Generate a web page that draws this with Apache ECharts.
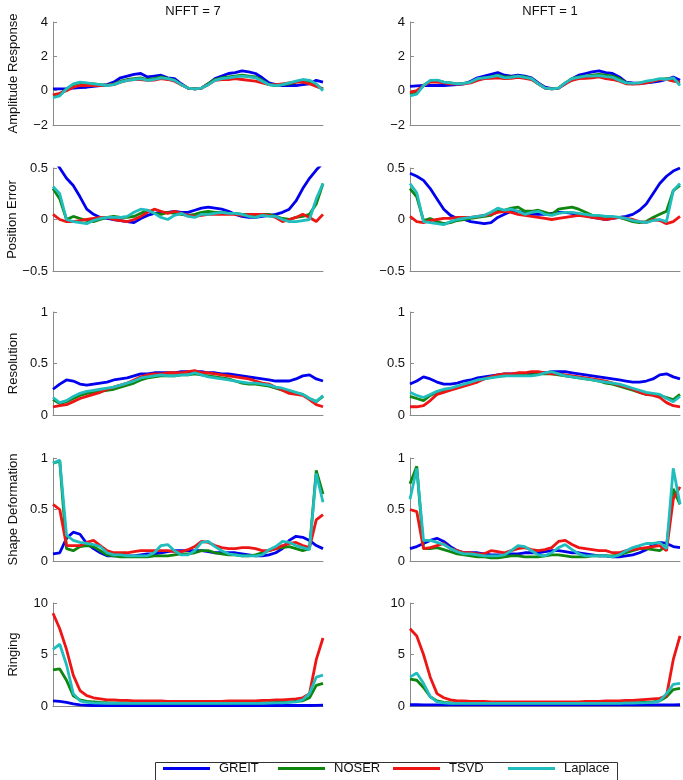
<!DOCTYPE html>
<html>
<head>
<meta charset="utf-8">
<script src="https://cdn.jsdelivr.net/npm/echarts@6/dist/echarts.min.js"></script>
<style>html,body{margin:0;padding:0;background:#fff}#c{width:683px;height:780px}</style>
</head>
<body>
<div id="c"></div>
<script>
// ---------- DATA ----------
const seriesNames = ['GREIT','NOSER','TSVD','Laplace'];
const rowTitles = ['Amplitude Response','Position Error','Resolution','Shape Deformation','Ringing'];
const colTitles = ['NFFT = 7','NFFT = 1'];
const yMins = [-2,-0.5,0,0,0];
const yMaxs = [4,0.5,1,1,10];
const ySteps = [2,0.5,0.5,0.5,5];

// Amplitude Response
const amp7_GREIT = [0.1,0.1,0.12,0.15,0.18,0.2,0.25,0.3,0.35,0.5, 0.75,0.85,0.95,1.0,0.8,0.85,0.9,0.75,0.7,0.4, 0.15,0.1,0.15,0.4,0.7,0.85,1.0,1.05,1.15,1.1, 1.0,0.75,0.45,0.35,0.3,0.3,0.3,0.35,0.4,0.6, 0.5];
const amp7_NOSER = [-0.3,-0.2,0.1,0.35,0.45,0.42,0.4,0.35,0.32,0.38, 0.55,0.65,0.7,0.75,0.65,0.7,0.8,0.72,0.6,0.35, 0.15,0.1,0.15,0.4,0.65,0.75,0.8,0.85,0.9,0.85, 0.8,0.6,0.35,0.3,0.35,0.4,0.5,0.6,0.5,0.3, 0.1];
const amp7_TSVD = [-0.25,-0.15,0.0,0.2,0.3,0.3,0.3,0.3,0.32,0.35, 0.5,0.6,0.65,0.65,0.6,0.62,0.7,0.65,0.55,0.35, 0.15,0.1,0.15,0.35,0.6,0.65,0.65,0.7,0.65,0.6, 0.55,0.45,0.35,0.35,0.4,0.45,0.5,0.5,0.4,0.25, 0.1];
const amp7_Laplace = [-0.4,-0.3,0.1,0.4,0.5,0.45,0.4,0.35,0.3,0.35, 0.5,0.6,0.65,0.7,0.6,0.65,0.75,0.7,0.6,0.35, 0.15,0.1,0.15,0.35,0.6,0.7,0.75,0.8,0.85,0.8, 0.75,0.55,0.35,0.3,0.35,0.45,0.55,0.65,0.6,0.4, 0.0];
const amp1_GREIT = [0.25,0.28,0.3,0.3,0.3,0.3,0.32,0.35,0.4,0.55, 0.75,0.85,0.95,1.05,0.9,0.85,0.9,0.85,0.75,0.45, 0.2,0.12,0.15,0.4,0.7,0.9,1.0,1.1,1.15,1.05, 1.0,0.8,0.5,0.45,0.42,0.45,0.5,0.55,0.65,0.8, 0.6];
const amp1_NOSER = [-0.2,-0.1,0.3,0.55,0.6,0.5,0.45,0.4,0.42,0.5, 0.65,0.75,0.8,0.9,0.8,0.8,0.85,0.8,0.7,0.4, 0.15,0.1,0.15,0.45,0.7,0.8,0.85,0.9,0.95,0.9, 0.85,0.7,0.45,0.4,0.45,0.5,0.55,0.65,0.7,0.6, 0.45];
const amp1_TSVD = [-0.1,0.0,0.3,0.5,0.5,0.45,0.4,0.38,0.4,0.45, 0.6,0.7,0.72,0.75,0.7,0.72,0.78,0.72,0.65,0.4, 0.15,0.1,0.15,0.4,0.6,0.7,0.72,0.75,0.8,0.7, 0.65,0.55,0.4,0.38,0.4,0.45,0.55,0.65,0.65,0.55, 0.5];
const amp1_Laplace = [-0.3,-0.2,0.3,0.6,0.62,0.5,0.45,0.4,0.42,0.5, 0.7,0.75,0.8,0.88,0.75,0.78,0.85,0.78,0.7,0.4, 0.15,0.1,0.15,0.45,0.7,0.78,0.85,0.85,0.88,0.82, 0.78,0.6,0.45,0.42,0.45,0.55,0.62,0.7,0.65,0.75, 0.3];

// Position Error
const pos7_GREIT = [0.6,0.5,0.4,0.33,0.22,0.1,0.05,0.02,0.01,0.0, -0.01,-0.02,-0.03,0.01,0.04,0.06,0.07,0.07,0.08,0.07, 0.07,0.09,0.11,0.12,0.11,0.1,0.08,0.05,0.03,0.02, 0.02,0.03,0.04,0.05,0.07,0.1,0.18,0.3,0.4,0.48, 0.55];
const pos7_NOSER = [0.3,0.2,0.0,0.03,0.01,-0.01,-0.02,0.0,0.02,0.03, 0.02,0.02,0.03,0.06,0.09,0.06,0.05,0.07,0.06,0.05, 0.04,0.05,0.07,0.08,0.07,0.07,0.06,0.06,0.05,0.05, 0.04,0.05,0.05,0.03,0.01,0.0,0.02,0.03,0.05,0.15, 0.35];
const pos7_TSVD = [0.05,0.0,-0.02,-0.02,-0.01,0.0,0.01,0.02,0.02,0.0, -0.01,-0.02,0.0,0.03,0.07,0.1,0.08,0.06,0.08,0.06, 0.04,0.03,0.04,0.05,0.05,0.05,0.05,0.05,0.04,0.05, 0.05,0.05,0.04,0.02,-0.02,0.0,0.02,0.05,0.02,-0.02, 0.05];
const pos7_Laplace = [0.32,0.25,0.0,-0.02,-0.03,-0.04,-0.01,0.01,0.02,0.02, 0.02,0.03,0.07,0.1,0.09,0.06,0.02,0.0,0.04,0.06, 0.03,0.02,0.05,0.05,0.06,0.07,0.06,0.06,0.05,0.03, 0.02,0.04,0.03,0.03,0.0,-0.02,-0.02,-0.01,0.0,0.2, 0.35];
const pos1_GREIT = [0.45,0.42,0.38,0.3,0.2,0.1,0.04,0.01,0.0,-0.02, -0.03,-0.04,-0.03,0.02,0.05,0.08,0.08,0.06,0.05,0.05, 0.05,0.06,0.07,0.07,0.06,0.05,0.04,0.02,0.01,0.0, 0.01,0.02,0.03,0.05,0.09,0.15,0.25,0.35,0.42,0.47, 0.5];
const pos1_NOSER = [0.3,0.22,-0.01,0.01,-0.02,-0.04,-0.03,-0.01,0.0,0.01, 0.02,0.03,0.04,0.08,0.09,0.11,0.12,0.08,0.08,0.09, 0.07,0.05,0.1,0.11,0.12,0.1,0.07,0.04,0.03,0.03, 0.02,0.02,0.0,-0.02,-0.03,-0.02,0.02,0.05,0.08,0.28, 0.33];
const pos1_TSVD = [0.03,-0.02,-0.03,-0.01,0.0,0.01,0.01,0.02,0.02,0.02, 0.03,0.04,0.05,0.07,0.08,0.07,0.05,0.04,0.03,0.02, 0.01,0.0,0.01,0.02,0.03,0.04,0.03,0.02,0.01,0.0, 0.01,0.02,0.01,0.0,-0.02,-0.03,0.0,-0.01,-0.04,-0.02, 0.03];
const pos1_Laplace = [0.35,0.26,-0.02,-0.03,-0.04,-0.05,-0.02,0.0,0.01,0.02, 0.03,0.04,0.07,0.11,0.09,0.1,0.08,0.05,0.07,0.08, 0.05,0.04,0.06,0.07,0.07,0.06,0.05,0.04,0.04,0.03, 0.03,0.02,0.01,-0.01,-0.02,-0.03,-0.01,0.0,-0.02,0.28, 0.35];

// Resolution
const res7_GREIT = [0.25,0.3,0.34,0.33,0.3,0.29,0.3,0.31,0.32,0.34, 0.35,0.36,0.38,0.4,0.4,0.41,0.41,0.41,0.41,0.42, 0.42,0.42,0.42,0.41,0.41,0.4,0.4,0.39,0.38,0.37, 0.36,0.35,0.34,0.33,0.33,0.33,0.35,0.38,0.39,0.35, 0.33];
const res7_NOSER = [0.15,0.11,0.13,0.16,0.19,0.21,0.22,0.23,0.24,0.25, 0.27,0.29,0.31,0.34,0.36,0.37,0.38,0.38,0.38,0.39, 0.39,0.4,0.39,0.38,0.37,0.36,0.35,0.33,0.31,0.3, 0.3,0.29,0.28,0.26,0.24,0.22,0.21,0.2,0.16,0.13, 0.18];
const res7_TSVD = [0.08,0.09,0.1,0.13,0.16,0.18,0.2,0.22,0.25,0.27, 0.29,0.31,0.34,0.37,0.39,0.4,0.4,0.41,0.41,0.41, 0.42,0.43,0.41,0.41,0.4,0.39,0.38,0.37,0.36,0.35, 0.33,0.31,0.3,0.27,0.24,0.21,0.2,0.19,0.15,0.1, 0.08];
const res7_Laplace = [0.17,0.12,0.14,0.18,0.21,0.23,0.24,0.25,0.26,0.27, 0.29,0.31,0.33,0.36,0.37,0.38,0.39,0.38,0.38,0.39, 0.39,0.41,0.39,0.37,0.36,0.35,0.34,0.33,0.32,0.31, 0.31,0.3,0.29,0.27,0.26,0.24,0.22,0.2,0.16,0.13, 0.19];
const res1_GREIT = [0.3,0.33,0.37,0.35,0.32,0.3,0.3,0.31,0.33,0.34, 0.36,0.37,0.38,0.39,0.4,0.4,0.4,0.4,0.41,0.41, 0.41,0.42,0.42,0.42,0.41,0.4,0.39,0.38,0.37,0.36, 0.35,0.34,0.33,0.32,0.32,0.33,0.35,0.39,0.4,0.37, 0.35];
const res1_NOSER = [0.18,0.16,0.14,0.19,0.22,0.24,0.25,0.27,0.29,0.31, 0.33,0.35,0.37,0.38,0.38,0.39,0.39,0.39,0.39,0.4, 0.4,0.4,0.39,0.38,0.37,0.36,0.35,0.34,0.33,0.31, 0.3,0.28,0.26,0.24,0.22,0.2,0.2,0.19,0.17,0.15, 0.2];
const res1_TSVD = [0.08,0.08,0.09,0.14,0.2,0.22,0.24,0.26,0.28,0.3, 0.32,0.35,0.37,0.39,0.4,0.4,0.41,0.41,0.42,0.42, 0.41,0.4,0.4,0.39,0.38,0.37,0.36,0.35,0.34,0.33, 0.31,0.29,0.27,0.25,0.22,0.2,0.19,0.17,0.12,0.09, 0.08];
const res1_Laplace = [0.22,0.19,0.17,0.2,0.23,0.25,0.26,0.28,0.3,0.32, 0.34,0.35,0.36,0.37,0.38,0.38,0.38,0.38,0.38,0.39, 0.41,0.42,0.4,0.38,0.37,0.36,0.35,0.34,0.33,0.32, 0.31,0.3,0.28,0.26,0.24,0.22,0.21,0.2,0.16,0.13, 0.18];

// Shape Deformation
const shp7_GREIT = [0.07,0.08,0.22,0.28,0.26,0.17,0.12,0.08,0.05,0.05, 0.05,0.05,0.05,0.06,0.07,0.07,0.08,0.09,0.1,0.1, 0.1,0.1,0.1,0.09,0.08,0.08,0.08,0.08,0.07,0.06, 0.05,0.05,0.06,0.08,0.12,0.2,0.24,0.23,0.2,0.15, 0.12];
const shp7_NOSER = [0.95,0.97,0.12,0.1,0.14,0.15,0.14,0.1,0.06,0.05, 0.04,0.04,0.04,0.04,0.04,0.05,0.05,0.05,0.06,0.07, 0.07,0.08,0.1,0.1,0.08,0.07,0.06,0.06,0.05,0.05, 0.06,0.08,0.1,0.12,0.13,0.14,0.12,0.1,0.12,0.88, 0.65];
const shp7_TSVD = [0.55,0.5,0.15,0.15,0.15,0.18,0.2,0.15,0.1,0.08, 0.08,0.08,0.09,0.1,0.1,0.1,0.1,0.1,0.09,0.09, 0.11,0.14,0.19,0.18,0.15,0.13,0.12,0.12,0.13,0.13, 0.12,0.1,0.1,0.12,0.15,0.17,0.18,0.15,0.13,0.4, 0.45];
const shp7_Laplace = [0.95,0.98,0.25,0.2,0.18,0.17,0.16,0.14,0.08,0.06, 0.06,0.05,0.05,0.05,0.05,0.08,0.15,0.16,0.1,0.06, 0.06,0.1,0.18,0.19,0.14,0.1,0.07,0.06,0.05,0.05, 0.05,0.06,0.11,0.14,0.19,0.18,0.15,0.13,0.11,0.85, 0.57];
const shp1_GREIT = [0.12,0.14,0.17,0.2,0.22,0.19,0.14,0.1,0.08,0.08, 0.08,0.07,0.06,0.06,0.06,0.07,0.07,0.08,0.08,0.08, 0.09,0.1,0.1,0.09,0.08,0.08,0.07,0.06,0.05,0.05, 0.04,0.04,0.05,0.06,0.08,0.11,0.16,0.18,0.17,0.14, 0.13];
const shp1_NOSER = [0.75,0.92,0.12,0.12,0.13,0.11,0.09,0.07,0.06,0.05, 0.04,0.04,0.03,0.03,0.04,0.05,0.05,0.04,0.04,0.04, 0.05,0.06,0.06,0.05,0.04,0.04,0.04,0.05,0.05,0.05, 0.05,0.06,0.08,0.1,0.12,0.12,0.11,0.1,0.15,0.7, 0.55];
const shp1_TSVD = [0.5,0.48,0.12,0.13,0.15,0.17,0.12,0.1,0.08,0.08, 0.07,0.07,0.1,0.09,0.08,0.1,0.12,0.13,0.11,0.1, 0.11,0.13,0.19,0.2,0.16,0.13,0.12,0.11,0.1,0.1, 0.08,0.08,0.1,0.11,0.12,0.13,0.14,0.15,0.1,0.6, 0.72];
const shp1_Laplace = [0.6,0.9,0.2,0.2,0.18,0.16,0.12,0.09,0.07,0.07, 0.06,0.05,0.05,0.05,0.06,0.1,0.15,0.14,0.1,0.06, 0.05,0.08,0.13,0.16,0.11,0.07,0.05,0.05,0.05,0.05, 0.04,0.06,0.1,0.13,0.15,0.17,0.17,0.18,0.12,0.9, 0.55];

// Ringing
const ring7_GREIT = [0.5,0.45,0.35,0.2,0.1,0.06,0.05,0.05,0.05,0.05, 0.05,0.05,0.05,0.05,0.05,0.05,0.05,0.05,0.05,0.05, 0.05,0.05,0.05,0.05,0.05,0.05,0.05,0.05,0.05,0.05, 0.05,0.05,0.05,0.05,0.05,0.05,0.05,0.05,0.05,0.06, 0.08];
const ring7_NOSER = [3.5,3.6,2.5,1.0,0.6,0.45,0.4,0.35,0.32,0.3, 0.3,0.3,0.28,0.28,0.28,0.28,0.28,0.28,0.28,0.28, 0.28,0.28,0.28,0.28,0.28,0.28,0.28,0.3,0.3,0.3, 0.3,0.3,0.32,0.35,0.35,0.4,0.45,0.5,0.8,2.0, 2.2];
const ring7_TSVD = [9.0,7.5,5.5,3.0,1.5,1.0,0.8,0.7,0.6,0.6, 0.55,0.55,0.5,0.5,0.5,0.5,0.5,0.45,0.45,0.45, 0.45,0.45,0.45,0.45,0.45,0.45,0.5,0.5,0.5,0.5, 0.5,0.55,0.55,0.6,0.6,0.65,0.7,0.8,1.2,4.5, 6.6];
const ring7_Laplace = [5.5,6.0,4.0,1.2,0.5,0.35,0.3,0.28,0.25,0.25, 0.25,0.25,0.25,0.25,0.25,0.25,0.25,0.25,0.25,0.25, 0.25,0.25,0.25,0.25,0.25,0.25,0.25,0.25,0.25,0.25, 0.25,0.25,0.28,0.3,0.3,0.35,0.4,0.6,1.2,2.8, 3.0];
const ring1_GREIT = [0.12,0.12,0.11,0.1,0.1,0.1,0.1,0.1,0.1,0.1, 0.1,0.1,0.1,0.1,0.1,0.1,0.1,0.1,0.1,0.1, 0.1,0.1,0.1,0.1,0.1,0.1,0.1,0.1,0.1,0.1, 0.1,0.1,0.1,0.1,0.1,0.1,0.1,0.1,0.1,0.11, 0.12];
const ring1_NOSER = [2.6,2.5,1.8,0.9,0.5,0.35,0.3,0.3,0.28,0.28, 0.28,0.28,0.28,0.28,0.28,0.28,0.28,0.28,0.28,0.28, 0.28,0.28,0.28,0.28,0.28,0.28,0.28,0.28,0.28,0.3, 0.3,0.3,0.32,0.33,0.35,0.38,0.4,0.5,0.9,1.6, 1.7];
const ring1_TSVD = [7.5,6.8,5.0,2.8,1.2,0.8,0.6,0.5,0.5,0.45, 0.45,0.45,0.4,0.4,0.4,0.4,0.4,0.4,0.4,0.4, 0.4,0.4,0.4,0.4,0.4,0.4,0.45,0.45,0.45,0.5, 0.5,0.5,0.55,0.55,0.6,0.65,0.7,0.75,1.0,4.5, 6.8];
const ring1_Laplace = [2.8,3.2,2.2,0.9,0.4,0.3,0.25,0.25,0.25,0.25, 0.25,0.25,0.25,0.25,0.25,0.25,0.25,0.25,0.25,0.25, 0.25,0.25,0.25,0.25,0.25,0.25,0.25,0.25,0.25,0.25, 0.25,0.25,0.27,0.28,0.3,0.32,0.35,0.5,1.2,2.1, 2.2];

// ---------- BUILD ----------
const panelData = [
  [[amp7_GREIT,amp7_NOSER,amp7_TSVD,amp7_Laplace],[amp1_GREIT,amp1_NOSER,amp1_TSVD,amp1_Laplace]],
  [[pos7_GREIT,pos7_NOSER,pos7_TSVD,pos7_Laplace],[pos1_GREIT,pos1_NOSER,pos1_TSVD,pos1_Laplace]],
  [[res7_GREIT,res7_NOSER,res7_TSVD,res7_Laplace],[res1_GREIT,res1_NOSER,res1_TSVD,res1_Laplace]],
  [[shp7_GREIT,shp7_NOSER,shp7_TSVD,shp7_Laplace],[shp1_GREIT,shp1_NOSER,shp1_TSVD,shp1_Laplace]],
  [[ring7_GREIT,ring7_NOSER,ring7_TSVD,ring7_Laplace],[ring1_GREIT,ring1_NOSER,ring1_TSVD,ring1_Laplace]]
];
const lineColors = ['#0000ee','#0f860f','#ee1515','#1fbdbd'];
const colLefts = [53, 410];
const gridW = 270;
const rowTops = [22, 168, 312, 458, 603];
const gridH = 103;
const legendLefts = [163, 278, 393, 508];
const FONT = 'Liberation Sans, Arial, Helvetica, sans-serif';
const fmt = v => String(v).replace('-', '\u2212');

const grid = [], xAxis = [], yAxis = [], series = [];
let gi = 0;
for (let r = 0; r < 5; r++) {
  for (let c = 0; c < 2; c++) {
    grid.push({left: colLefts[c], top: rowTops[r], width: gridW, height: gridH, containLabel: false});
    xAxis.push({
      type: 'category', gridIndex: gi, boundaryGap: false,
      data: panelData[r][c][0].map((_, i) => i),
      axisLine: {onZero: false, lineStyle: {color: '#8a8a8a', width: 1}},
      axisTick: {show: false}, axisLabel: {show: false}, splitLine: {show: false}
    });
    yAxis.push({
      type: 'value', gridIndex: gi, min: yMins[r], max: yMaxs[r], interval: ySteps[r],
      name: c === 0 ? rowTitles[r] : '', nameLocation: 'middle', nameRotate: 90, nameGap: 33,
      nameTextStyle: {fontFamily: FONT, fontSize: 13, color: '#111'},
      axisLine: {show: true, lineStyle: {color: '#8a8a8a', width: 1}},
      axisTick: {show: true, inside: true, length: 4, lineStyle: {color: '#8a8a8a'}},
      axisLabel: {fontFamily: FONT, fontSize: 13, color: '#111', margin: 5, formatter: fmt},
      splitLine: {show: false}
    });
    for (let s = 0; s < 4; s++) {
      series.push({
        type: 'line', name: seriesNames[s], xAxisIndex: gi, yAxisIndex: gi,
        data: panelData[r][c][s], symbol: 'none', clip: true,
        lineStyle: {width: 2.8, color: lineColors[s]}, itemStyle: {color: lineColors[s]},
        z: 2 + s, animation: false
      });
    }
    gi++;
  }
}

const chart = echarts.init(document.getElementById('c'), null, {renderer: 'canvas'});
chart.setOption({
  backgroundColor: '#fff',
  animation: false,
  title: colTitles.map((t, c) => ({
    text: t, left: colLefts[c] + gridW / 2, top: 0, textAlign: 'center',
    textStyle: {fontFamily: FONT, fontSize: 13, fontWeight: 'normal', color: '#111'}
  })),
  legend: seriesNames.map((nm, k) => ({
    data: [nm], left: legendLefts[k], top: 762, padding: 0,
    itemWidth: 47, itemHeight: 3, icon: 'rect',
    textStyle: {fontFamily: FONT, fontSize: 13, color: '#111', padding: [0, 0, 0, 4]}
  })),
  graphic: [{
    type: 'rect', left: 153, top: 760, shape: {width: 462, height: 19},
    style: {fill: 'none', stroke: '#333', lineWidth: 1}, silent: true
  }],
  grid, xAxis, yAxis, series
});
</script>
</body>
</html>
